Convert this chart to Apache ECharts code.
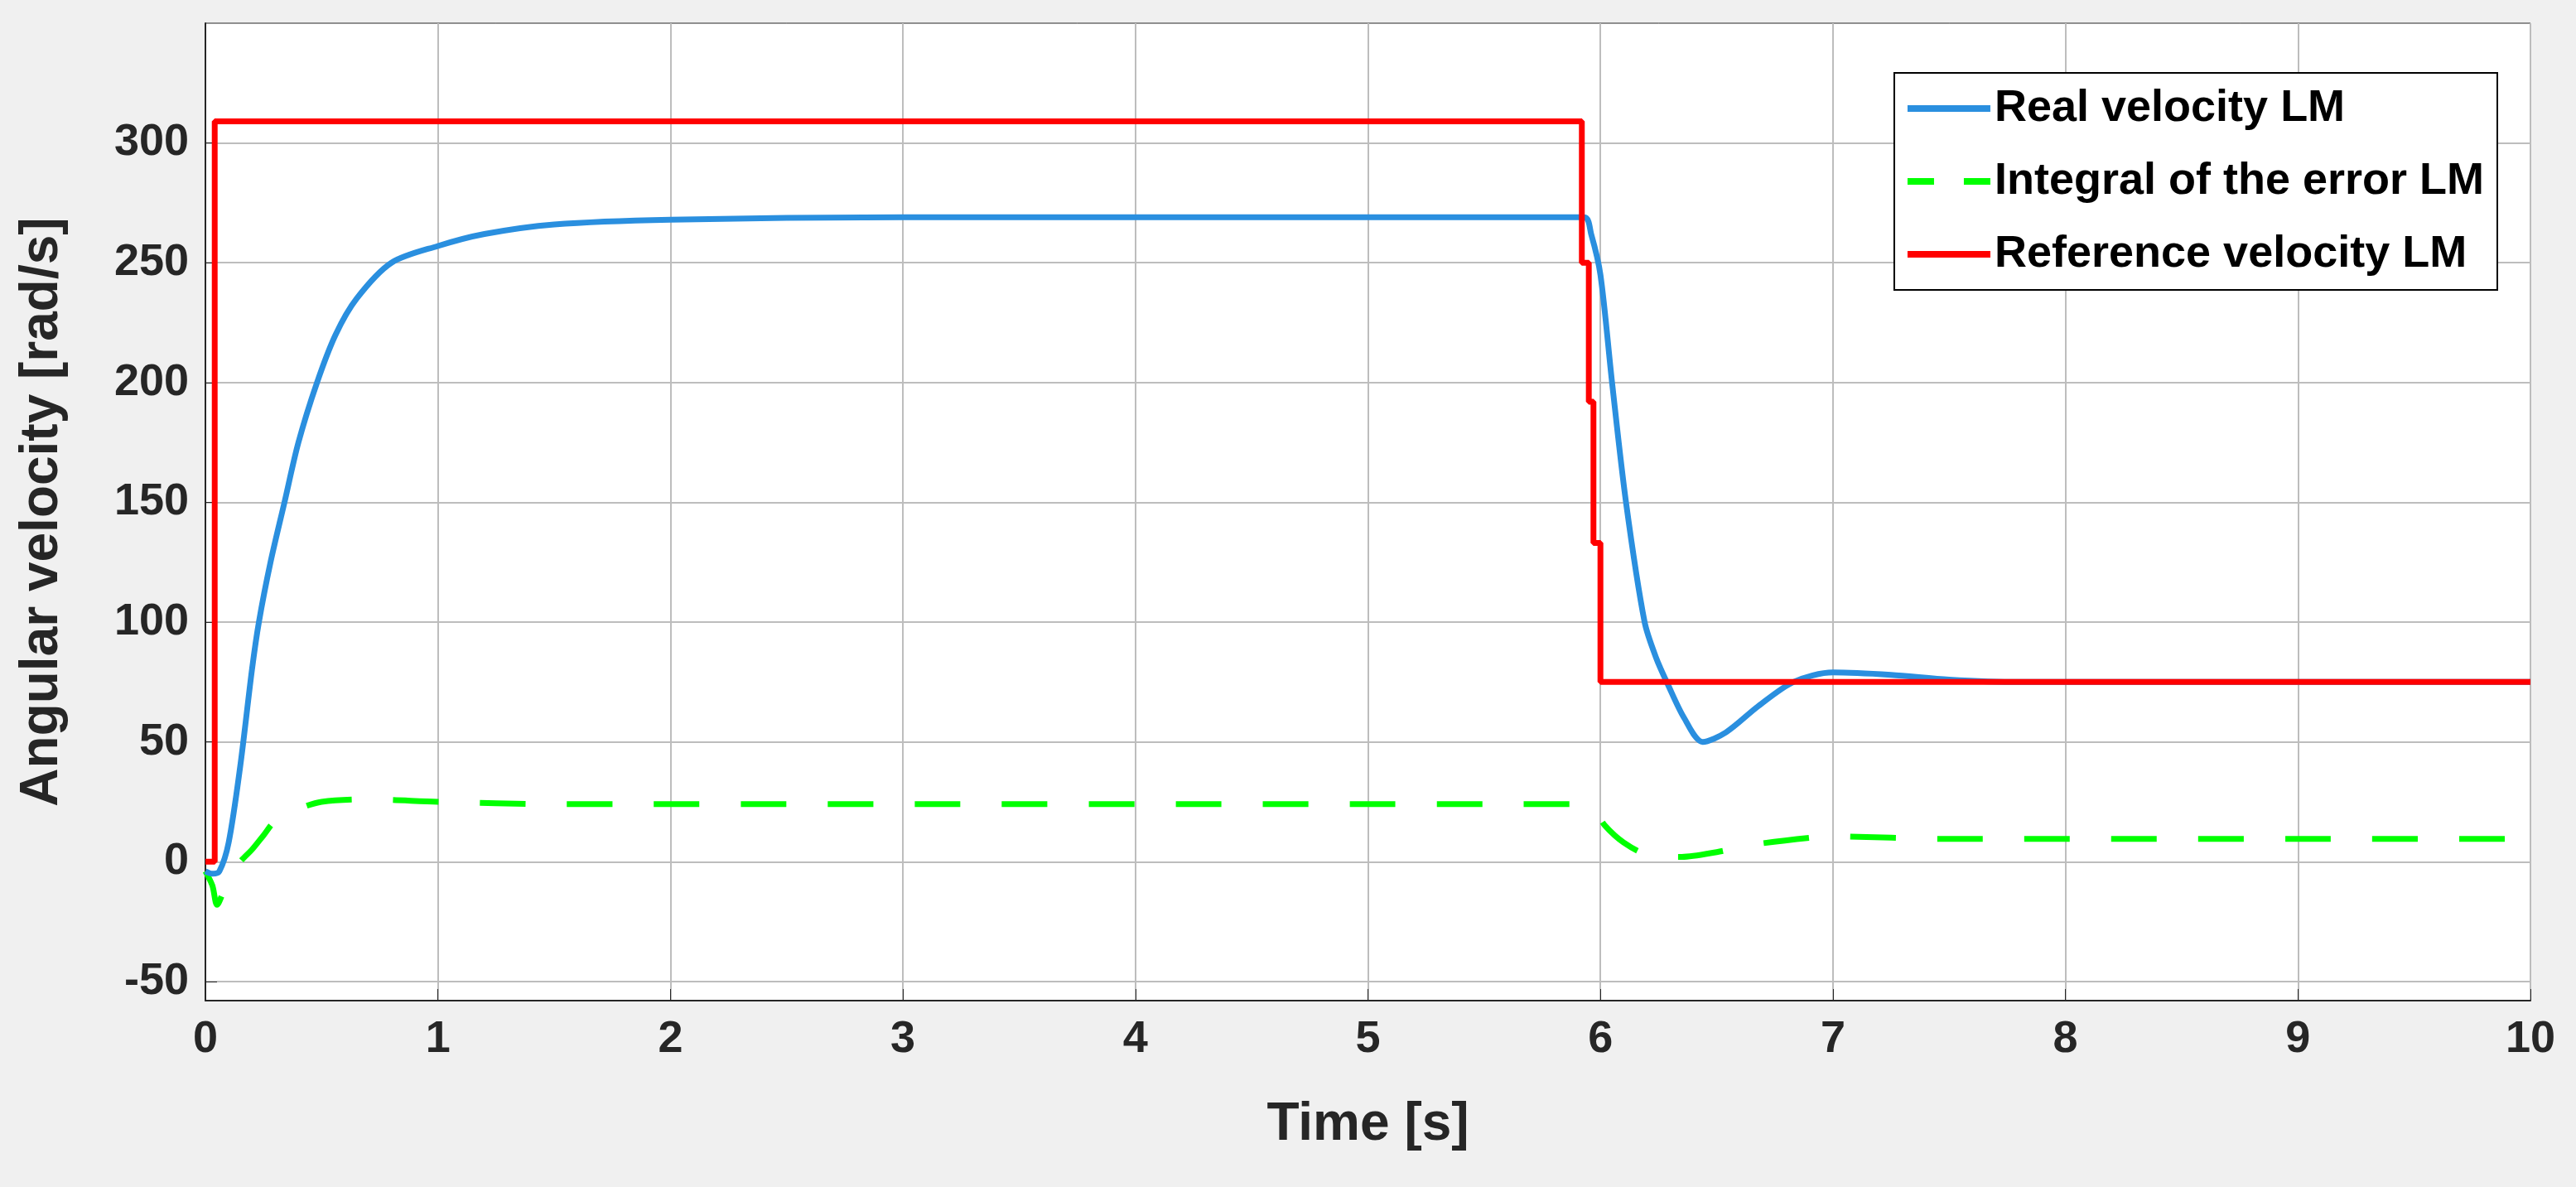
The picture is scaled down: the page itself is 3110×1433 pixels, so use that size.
<!DOCTYPE html>
<html>
<head>
<meta charset="UTF-8">
<script src="https://cdn.jsdelivr.net/npm/echarts@6/dist/echarts.min.js"></script>
<style>html,body{margin:0;background:#f0f0f0}#main{width:3110px;height:1433px}</style>
</head>
<body>
<div id="main"></div>
<script>
// Real velocity LM: [time, value]
const realVelocity = [
  [0, -4], [0.03, -5], [0.06, -4], [0.1, 8], [0.15, 40], [0.2, 80], [0.23, 100], [0.28, 125],
  [0.34, 150], [0.4, 175], [0.48, 200], [0.56, 220], [0.65, 235], [0.8, 250], [1.0, 257],
  [1.2, 262], [1.5, 266], [2.0, 268], [3.0, 269], [5.93, 269], [5.96, 262], [6.0, 245],
  [6.05, 200], [6.11, 150], [6.19, 100], [6.24, 85], [6.29, 74], [6.36, 60], [6.44, 50],
  [6.54, 54], [6.68, 65], [6.83, 75], [7.0, 79], [7.25, 78], [7.5, 76], [7.8, 75], [10, 75]
];
// Integral of the error LM
const integralError = [
  [0, -4], [0.03, -10], [0.05, -18], [0.08, -12], [0.1, -8], [0.15, 0], [0.2, 5], [0.25, 11],
  [0.3, 17], [0.4, 22], [0.5, 25], [0.7, 26], [1.0, 25], [1.5, 24], [5.92, 24], [5.97, 22],
  [6.02, 15], [6.1, 8], [6.2, 3], [6.35, 2], [6.5, 4], [6.65, 7], [6.9, 10], [7.0, 10.5],
  [7.5, 9.5], [10, 9.5]
];
// Reference velocity LM (steps)
const referenceVelocity = [
  [0, 0], [0.04, 0], [0.04, 309], [5.92, 309], [5.92, 250], [5.95, 250], [5.95, 192],
  [5.97, 192], [5.97, 133], [6.0, 133], [6.0, 75], [10, 75]
];
const yTicks = [-50, 0, 50, 100, 150, 200, 250, 300];

const font = 'Liberation Sans';
const solidIcon = 'path://M0,0 L100,0 L100,8 L0,8 Z';
const dashIcon = 'path://M0,0 L32,0 L32,8 L0,8 Z M68,0 L100,0 L100,8 L68,8 Z';
const chart = echarts.init(document.getElementById('main'));
chart.setOption({
  backgroundColor: '#f0f0f0',
  animation: false,
  grid: { left: 248, right: 55, top: 28, bottom: 225, show: true, backgroundColor: '#fff', borderColor: '#262626', borderWidth: 1 },
  legend: {
    orient: 'vertical', right: 95, top: 88, padding: [16, 16, 16, 16],
    backgroundColor: '#fff', borderColor: '#000', borderWidth: 2,
    itemWidth: 100, itemHeight: 8, itemGap: 34,
    textStyle: { fontFamily: font, fontWeight: 'bold', fontSize: 54, color: '#000' },
    data: [
      { name: 'Real velocity LM', icon: solidIcon },
      { name: 'Integral of the error LM', icon: dashIcon },
      { name: 'Reference velocity LM', icon: solidIcon }
    ]
  },
  xAxis: {
    type: 'value', min: 0, max: 10, interval: 1,
    name: 'Time [s]', nameLocation: 'middle', nameGap: 118,
    nameTextStyle: { fontFamily: font, fontWeight: 'bold', fontSize: 64, color: '#262626' },
    axisLine: { onZero: false, lineStyle: { color: '#262626', width: 2 } },
    axisTick: { show: true, inside: true, length: 14, lineStyle: { color: '#262626' } },
    axisLabel: { fontFamily: font, fontWeight: 'bold', fontSize: 54, color: '#262626', margin: 20 },
    splitLine: { lineStyle: { color: '#bdbdbd', width: 2 } }
  },
  yAxis: {
    type: 'value', min: -58, max: 350,
    name: 'Angular velocity [rad/s]', nameLocation: 'middle', nameGap: 165,
    nameTextStyle: { fontFamily: font, fontWeight: 'bold', fontSize: 64, color: '#262626' },
    axisLine: { show: true, onZero: false, lineStyle: { color: '#262626', width: 2 } },
    axisTick: { show: true, inside: true, length: 14, customValues: yTicks, lineStyle: { color: '#262626' } },
    axisLabel: { fontFamily: font, fontWeight: 'bold', fontSize: 54, color: '#262626', margin: 20, customValues: yTicks },
    splitLine: { lineStyle: { color: '#bdbdbd', width: 2 } }
  },
  series: [
    { name: 'Real velocity LM', type: 'line', data: realVelocity, smooth: 0.3, showSymbol: false,
      color: '#2a8fdf', lineStyle: { width: 7, color: '#2a8fdf' }, z: 3 },
    { name: 'Integral of the error LM', type: 'line', data: integralError, smooth: 0.3, showSymbol: false,
      color: '#00ff00', lineStyle: { width: 7, color: '#00ff00', type: [55, 50] }, z: 2 },
    { name: 'Reference velocity LM', type: 'line', data: referenceVelocity, showSymbol: false,
      color: '#ff0000', lineStyle: { width: 7, color: '#ff0000' }, z: 4 }
  ]
});
</script>
</body>
</html>
